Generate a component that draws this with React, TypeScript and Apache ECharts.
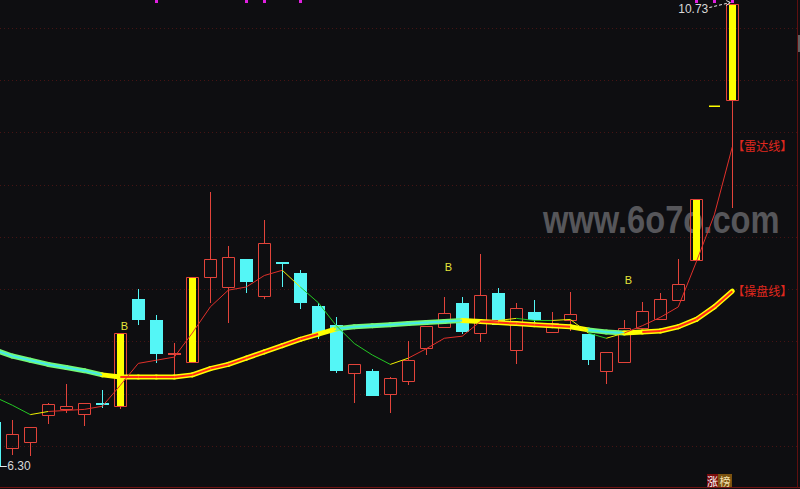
import React, { useEffect, useRef } from "react";
import * as echarts from "echarts";

// ---------- data ----------
const opens = [6.73, 6.48, 6.54, 6.80, 6.85, 6.81, 6.90, 6.88, 7.91, 7.70, 7.37, 7.30, 8.12, 8.02, 8.29, 7.93, 8.25, 8.15, 7.84, 7.66, 7.20, 7.22, 7.00, 7.12, 7.44, 7.64, 7.87, 7.58, 7.96, 7.42, 7.78, 7.59, 7.70, 7.57, 7.22, 7.30, 7.63, 7.71, 7.90, 8.28, 9.75, 9.81];
const closes = [6.31, 6.61, 6.68, 6.90, 6.88, 6.91, 6.89, 7.58, 7.70, 7.38, 7.38, 8.12, 8.29, 8.31, 8.07, 8.44, 8.24, 7.87, 7.57, 7.22, 7.28, 6.98, 7.15, 7.32, 7.65, 7.77, 7.59, 7.94, 7.66, 7.82, 7.70, 7.68, 7.76, 7.32, 7.40, 7.63, 7.79, 7.91, 8.05, 8.86, 9.75, 10.73];
const highs = [6.75, 6.75, 6.68, 6.91, 7.09, 6.91, 7.04, 7.58, 8.00, 7.75, 7.48, 8.12, 8.93, 8.41, 8.29, 8.66, 8.25, 8.18, 7.87, 7.73, 7.28, 7.24, 7.16, 7.50, 7.65, 7.92, 7.92, 8.34, 8.01, 7.87, 7.90, 7.78, 7.97, 7.57, 7.40, 7.70, 7.88, 7.96, 8.29, 8.86, 9.75, 10.73];
const lows = [6.30, 6.41, 6.40, 6.71, 6.82, 6.69, 6.86, 6.85, 7.66, 7.29, 7.16, 7.30, 7.87, 7.68, 7.96, 7.91, 8.02, 7.81, 7.52, 7.20, 6.91, 6.98, 6.82, 7.08, 7.37, 7.64, 7.57, 7.49, 7.66, 7.28, 7.69, 7.59, 7.60, 7.27, 7.09, 7.30, 7.62, 7.71, 7.90, 8.28, 9.75, 8.78];
const limitUpDays = [7, 11, 39, 40, 41];

// 雷达线 (thin line) and its trend per segment: U rising, D falling, Y turning
const radarLine = [6.97, 6.89, 6.80, 6.83, 6.84, 6.85, 6.88, 7.08, 7.29, 7.32, 7.35, 7.58, 7.83, 7.99, 8.02, 8.13, 8.18, 8.02, 7.87, 7.65, 7.48, 7.37, 7.28, 7.34, 7.43, 7.53, 7.55, 7.69, 7.70, 7.72, 7.70, 7.70, 7.71, 7.58, 7.53, 7.58, 7.65, 7.73, 7.83, 8.26, 8.71, 9.36];
const radarTrend = ["D", "D", "Y", "U", "U", "U", "U", "U", "U", "U", "U", "U", "U", "U", "U", "U", "Y", "D", "D", "D", "D", "D", "Y", "U", "U", "U", "U", "U", "Y", "D", "D", "Y", "Y", "D", "Y", "U", "U", "U", "U", "U", "U"];

// 操盘线 (thick line) and its trend per segment
const panLine = [7.42, 7.36, 7.32, 7.28, 7.25, 7.22, 7.18, 7.16, 7.16, 7.16, 7.16, 7.18, 7.24, 7.28, 7.34, 7.40, 7.46, 7.52, 7.57, 7.62, 7.64, 7.65, 7.66, 7.67, 7.68, 7.69, 7.70, 7.69, 7.68, 7.67, 7.66, 7.65, 7.64, 7.61, 7.59, 7.58, 7.59, 7.60, 7.64, 7.71, 7.83, 7.98];
const panTrend = ["D", "D", "D", "D", "D", "D", "Y", "U", "U", "U", "U", "U", "U", "U", "U", "U", "U", "U", "Y", "D", "D", "D", "D", "D", "D", "D", "Y", "U", "U", "U", "U", "U", "Y", "D", "D", "Y", "U", "U", "U", "U", "U"];

const signalDays = [7, 25, 35];
const signalLevels = [7.65, 8.21, 8.09];
const markDays = [9, 14, 15, 17, 39, 40, 41];
const gridLevels = [6.5, 7.0, 7.5, 8.0, 8.5, 9.0, 9.5, 10.0, 10.5];

const radarName = "【雷达线】";
const panName = "【操盘线】";
const watermark = "www.6o7o.com";

// ---------- styles ----------
const BG = "#0e0e11";
const RED = "#e2433a";
const CYAN = "#54f6f6";
const YELLOW = "#ffff00";
const THIN: Record<string, string> = { U: "#e0302a", D: "#24c824", Y: "#f0f000" };
const EDGE: Record<string, string> = { U: "#ffff00", D: "#74f874", Y: "#ffff00" };
const CORE: Record<string, string> = { U: "#ff2a1a", D: "#44eaea", Y: "#ffff00" };

const candleData = opens.map((o, i) => [i, o, closes[i], lows[i], highs[i], limitUpDays.includes(i) ? 1 : 0]);

function candleItem(params: any, api: any) {
  const i = api.value(0), o = api.value(1), c = api.value(2), l = api.value(3), h = api.value(4), lim = api.value(5);
  const po = api.coord([i, o]);
  const pc = api.coord([i, c]);
  const pl = api.coord([i, l]);
  const ph = api.coord([i, h]);
  const xc = Math.round(po[0]);
  const xl = xc - 6;
  const yTop = Math.round(Math.min(po[1], pc[1]));
  const yBot = Math.round(Math.max(po[1], pc[1]));
  const yH = Math.round(ph[1]);
  const yL = Math.round(pl[1]);
  const up = c >= o;
  const col = lim || up ? RED : CYAN;
  const children: any[] = [];
  const wick = (y1: number, y2: number) => ({
    type: "line",
    shape: { x1: xc + 0.5, y1, x2: xc + 0.5, y2 },
    style: { stroke: col, lineWidth: 1 },
  });
  if (lim && Math.abs(o - c) < 0.005 && Math.abs(h - l) < 0.005) {
    children.push({ type: "rect", shape: { x: xc - 5, y: yTop - 0.5, width: 11, height: 1.5 }, style: { fill: YELLOW } });
    return { type: "group", children };
  }
  if (yH < yTop) children.push(wick(yH, yTop));
  if (yL > yBot) children.push(wick(yBot, yL));
  if (Math.abs(o - c) < 0.015) {
    children.push({ type: "rect", shape: { x: xl, y: yTop - 1, width: 13, height: 2 }, style: { fill: col } });
  } else if (lim) {
    children.push({ type: "rect", shape: { x: xl + 0.5, y: yTop + 0.5, width: 12, height: yBot - yTop }, style: { stroke: RED, fill: "none", lineWidth: 1 } });
    children.push({ type: "rect", shape: { x: xl + 3, y: yTop + 1, width: 7, height: yBot - yTop - 1 }, style: { fill: YELLOW } });
  } else if (up) {
    children.push({ type: "rect", shape: { x: xl + 0.5, y: yTop + 0.5, width: 12, height: Math.max(yBot - yTop, 1) }, style: { stroke: RED, fill: "none", lineWidth: 1 } });
  } else {
    children.push({ type: "rect", shape: { x: xl, y: yTop, width: 13, height: Math.max(yBot - yTop, 1) }, style: { fill: CYAN } });
  }
  return { type: "group", children };
}

function segItem(line: number[], trend: string[], colors: Record<string, string>, width: number, cap: string) {
  return (params: any, api: any) => {
    const i = params.dataIndex;
    const a = api.coord([i, line[i]]);
    const b = api.coord([i + 1, line[i + 1]]);
    return {
      type: "line",
      shape: { x1: a[0], y1: a[1], x2: b[0], y2: b[1] },
      style: { stroke: colors[trend[i]], lineWidth: width, lineCap: cap },
    };
  };
}

const option: any = {
  animation: false,
  backgroundColor: BG,
  grid: { left: 0, top: 0, width: 797, height: 489, containLabel: false },
  xAxis: { type: "value", min: 0.3167, max: 0.3167 + 797 / 18, show: false },
  yAxis: {
    type: "value",
    min: 6.0889,
    max: 10.7639,
    show: false,
    splitLine: { show: false },
  },
  graphic: [
    {
      type: "text",
      x: 543,
      y: 220,
      scaleX: 0.86,
      z: 0,
      style: { text: watermark, fill: "#56565a", font: 'bold 38px "Liberation Sans", Arial, sans-serif', verticalAlign: "middle" },
    },
    { type: "line", z: 100, shape: { x1: 0, y1: 487.5, x2: 800, y2: 487.5 }, style: { stroke: "#701212", lineWidth: 1 } },
    { type: "line", z: 100, shape: { x1: 797.5, y1: 0, x2: 797.5, y2: 488 }, style: { stroke: "#5e1010", lineWidth: 1 } },
    { type: "rect", z: 100, shape: { x: 798, y: 35, width: 2, height: 17 }, style: { fill: "#606060" } },
    { type: "rect", z: 100, shape: { x: 707, y: 474, width: 11, height: 13 }, style: { fill: "#7a0c0c" } },
    { type: "rect", z: 100, shape: { x: 718, y: 474, width: 14, height: 13 }, style: { fill: "#7a5210" } },
    { type: "text", z: 101, x: 712.5, y: 480.5, style: { text: "涨", fill: "#ffffff", font: '11px "Noto Sans CJK SC"', align: "center", verticalAlign: "middle" } },
    { type: "text", z: 101, x: 725, y: 480.5, style: { text: "榜", fill: "#f4e2b0", font: '11px "Noto Sans CJK SC"', align: "center", verticalAlign: "middle" } },
  ],
  series: [
    {
      type: "custom", name: "gridLines", silent: true, z: 1,
      renderItem: (params: any, api: any) => {
        const p = api.coord([0, api.value(1)]);
        const y = Math.round(p[1]) + 0.5;
        return { type: "line", shape: { x1: 0, y1: y, x2: 797, y2: y }, style: { stroke: "#461414", lineWidth: 1, lineDash: [1, 3] } };
      },
      data: gridLevels.map((v) => [0, v]),
    },
    { type: "custom", name: "K", silent: true, z: 3, renderItem: candleItem, data: candleData },
    {
      type: "custom", name: "panEdge", silent: true, z: 4,
      renderItem: segItem(panLine, panTrend, EDGE, 5, "round"),
      data: panTrend.map((t, i) => [i, panLine[i]]),
    },
    {
      type: "custom", name: "panCore", silent: true, z: 5,
      renderItem: segItem(panLine, panTrend, CORE, 2, "butt"),
      data: panTrend.map((t, i) => [i, panLine[i]]),
    },
    {
      type: "custom", name: "radar", silent: true, z: 6,
      renderItem: segItem(radarLine, radarTrend, THIN, 1, "butt"),
      data: radarTrend.map((t, i) => [i, radarLine[i]]),
    },
    {
      type: "custom", name: "signals", silent: true, z: 7,
      renderItem: (params: any, api: any) => {
        const p = api.coord([api.value(0), api.value(1)]);
        return { type: "text", x: p[0] + 0.5, y: p[1], style: { text: "B", fill: "#e4e43a", font: '11px "Liberation Sans", Arial', align: "left", verticalAlign: "middle" } };
      },
      data: signalDays.map((d, k) => [d, signalLevels[k]]),
    },
    {
      type: "custom", name: "marks", silent: true, z: 7,
      renderItem: (params: any, api: any) => {
        const a = api.coord([api.value(0), 10.77]);
        const b = api.coord([api.value(0), 10.735]);
        return { type: "rect", shape: { x: Math.round(a[0]) - 1, y: a[1], width: 3, height: b[1] - a[1] }, style: { fill: "#e020e0" } };
      },
      data: markDays.map((d) => [d, 10.75]),
    },
    {
      type: "custom", name: "hiLabel", silent: true, z: 8,
      renderItem: (params: any, api: any) => {
        const p = api.coord([api.value(0), api.value(1)]);
        return {
          type: "group",
          children: [
            { type: "text", x: p[0] - 24, y: p[1] + 5, style: { text: api.value(1).toFixed(2), fill: "#d8d8d8", font: '12px "Liberation Sans", Arial', align: "right", verticalAlign: "middle" } },
            { type: "line", shape: { x1: p[0] - 23, y1: p[1] + 4, x2: p[0] - 2, y2: p[1] - 1 }, style: { stroke: "#e8e8e8", lineWidth: 1, lineDash: [3, 2] } },
            { type: "polyline", shape: { points: [[p[0] - 6, p[1] - 3], [p[0] - 2, p[1] - 1], [p[0] - 6, p[1] + 2]] }, style: { stroke: "#e8e8e8", fill: null, lineWidth: 1 } },
          ],
        };
      },
      data: [[closes.length - 1, Math.max(...highs)]],
    },
    {
      type: "custom", name: "loLabel", silent: true, z: 8,
      renderItem: (params: any, api: any) => {
        const p = api.coord([api.value(0), api.value(1)]);
        return {
          type: "group",
          children: [
            { type: "line", shape: { x1: p[0], y1: Math.round(p[1]) - 0.5, x2: p[0] + 12.5, y2: Math.round(p[1]) - 0.5 }, style: { stroke: "#e8e8e8", lineWidth: 1 } },
            { type: "text", x: p[0] + 13, y: p[1] - 1, style: { text: api.value(1).toFixed(2), fill: "#d8d8d8", font: '12px "Liberation Sans", Arial', align: "left", verticalAlign: "middle" } },
          ],
        };
      },
      data: [[0, Math.min(...lows)]],
    },
    {
      type: "custom", name: "lineNames", silent: true, z: 8,
      renderItem: (params: any, api: any) => {
        const p = api.coord([api.value(0), api.value(1)]);
        const txt = params.dataIndex === 0 ? radarName : panName;
        return { type: "text", x: p[0], y: p[1] - 1, style: { text: txt, fill: "#e0281e", font: '12px "Noto Sans CJK SC"', align: "left", verticalAlign: "middle" } };
      },
      data: [[radarLine.length - 1, radarLine[radarLine.length - 1]], [panLine.length - 1, panLine[panLine.length - 1]]],
    },
  ],
};

export default function App() {
  const ref = useRef<HTMLDivElement>(null);
  useEffect(() => {
    document.body.style.margin = "0";
    document.body.style.background = BG;
    const chart = echarts.init(ref.current!, undefined, { renderer: "svg", width: 800, height: 489 });
    chart.setOption(option);
    return () => chart.dispose();
  }, []);
  return <div ref={ref} style={{ width: 800, height: 489 }} />;
}
